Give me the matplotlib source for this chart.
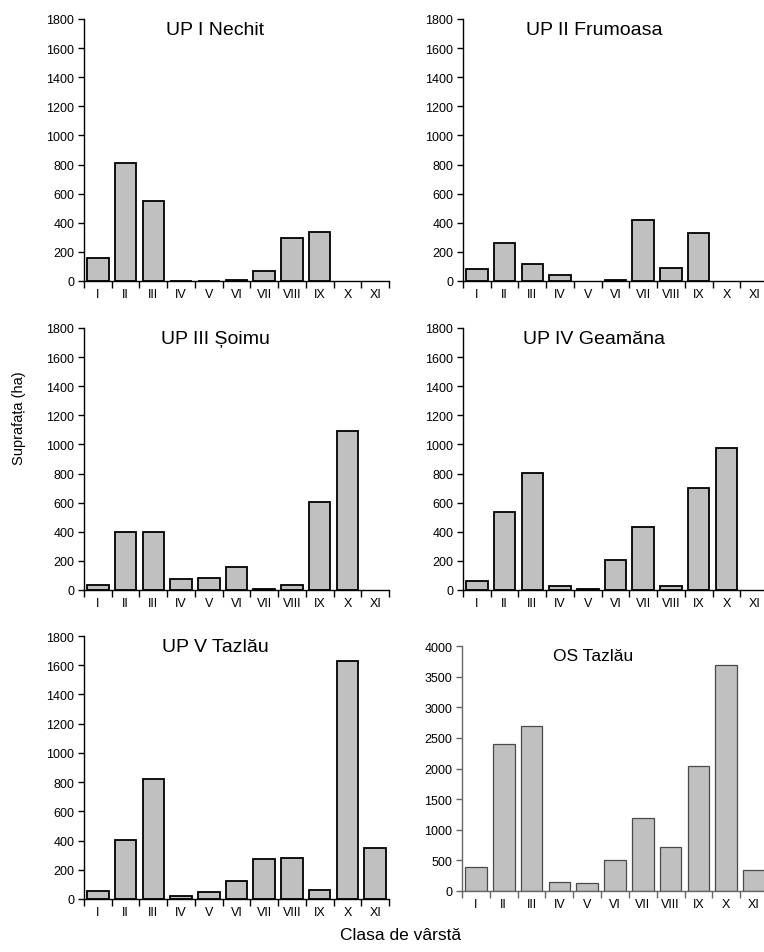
import matplotlib
matplotlib.use("Agg")
import matplotlib.pyplot as plt
import numpy as np

plt.rcParams['font.family'] = ['Liberation Sans', 'DejaVu Sans']

classes = ["I", "II", "III", "IV", "V", "VI", "VII", "VIII", "IX", "X", "XI"]

up1_nechit = [156, 813, 550, 3, 2, 8, 69, 295, 339, 0, 0]
up2_frumoasa = [82, 261, 119, 39, 0, 8, 417, 87, 332, 0, 0]
up3_soimu = [37, 399, 399, 73, 80, 156, 5, 32, 605, 1094, 0]
up4_geamana = [64, 539, 805, 27, 5, 209, 431, 27, 702, 977, 0]
up5_tazlau = [57, 402, 820, 21, 50, 121, 272, 279, 64, 1626, 347]
os_tazlau = [392, 2405, 2688, 152, 136, 500, 1192, 718, 2035, 3695, 337]

titles = ["UP I Nechit", "UP II Frumoasa", "UP III \u0218oimu",
          "UP IV Geam\u0103na", "UP V Tazl\u0103u", "OS Tazl\u0103u"]
series = [up1_nechit, up2_frumoasa, up3_soimu, up4_geamana, up5_tazlau, os_tazlau]

W, H = 764, 953
fig = plt.figure(figsize=(W / 100, H / 100), dpi=100)

# pixel boxes: left, top, right, bottom (y zero line)
boxes = [
    (84, 20, 389, 282),
    (463, 20, 768, 282),
    (84, 329, 389, 591),
    (463, 329, 768, 591),
    (84, 637, 389, 900),
    (462, 647, 768, 892),
]

for i, (vals, title, box) in enumerate(zip(series, titles, boxes)):
    l, t, r, b = box
    ax = fig.add_axes([l / W, 1 - b / H, (r - l) / W, (b - t) / H])
    last = (i == 5)
    edge = '#4a4a4a' if last else 'black'
    lw = 0.9 if last else 1.3
    axis_col = '#666666' if last else 'black'
    x = np.arange(len(classes))
    edges = [edge if v > 0 else 'none' for v in vals]
    ax.bar(x, vals, width=0.78, color='#C0C0C0', edgecolor=edges, linewidth=lw, zorder=3)
    ax.set_xlim(-0.5, len(classes) - 0.5)
    if last:
        ax.set_ylim(0, 4000)
        ax.set_yticks(np.arange(0, 4001, 500))
    else:
        ax.set_ylim(0, 1800)
        ax.set_yticks(np.arange(0, 1801, 200))
    for s in ['top', 'right']:
        ax.spines[s].set_visible(False)
    for s in ['left', 'bottom']:
        ax.spines[s].set_color(axis_col)
        ax.spines[s].set_linewidth(1.0)
        ax.spines[s].set_zorder(4)
    # boundary ticks (major), labels at centers (minor)
    ax.set_xticks(np.arange(-0.5, len(classes) + 0.5, 1.0))
    ax.set_xticklabels([])
    ax.set_xticks(x, minor=True)
    ax.set_xticklabels(classes, minor=True)
    ax.tick_params(axis='x', which='major', direction='out', length=5, width=1.0, color=axis_col)
    ax.tick_params(axis='x', which='minor', length=0, pad=5, labelsize=9)
    ax.tick_params(axis='y', direction='out', length=4, width=1.0, color=axis_col, labelsize=9, pad=3)
    ax.patch.set_alpha(0)
    fs = 12.5 if last else 14
    ax.text(0.43, 0.96, title, transform=ax.transAxes, ha='center', va='center', fontsize=fs)

fig.text(19 / W, 1 - 418 / H, "Suprafa\u021ba (ha)", rotation=90, ha='center', va='center', fontsize=10.5)
fig.text(401 / W, 1 - 936 / H, "Clasa de v\u00e2rst\u0103", ha='center', va='center', fontsize=12.5)

fig.savefig("out.png", dpi=100)
